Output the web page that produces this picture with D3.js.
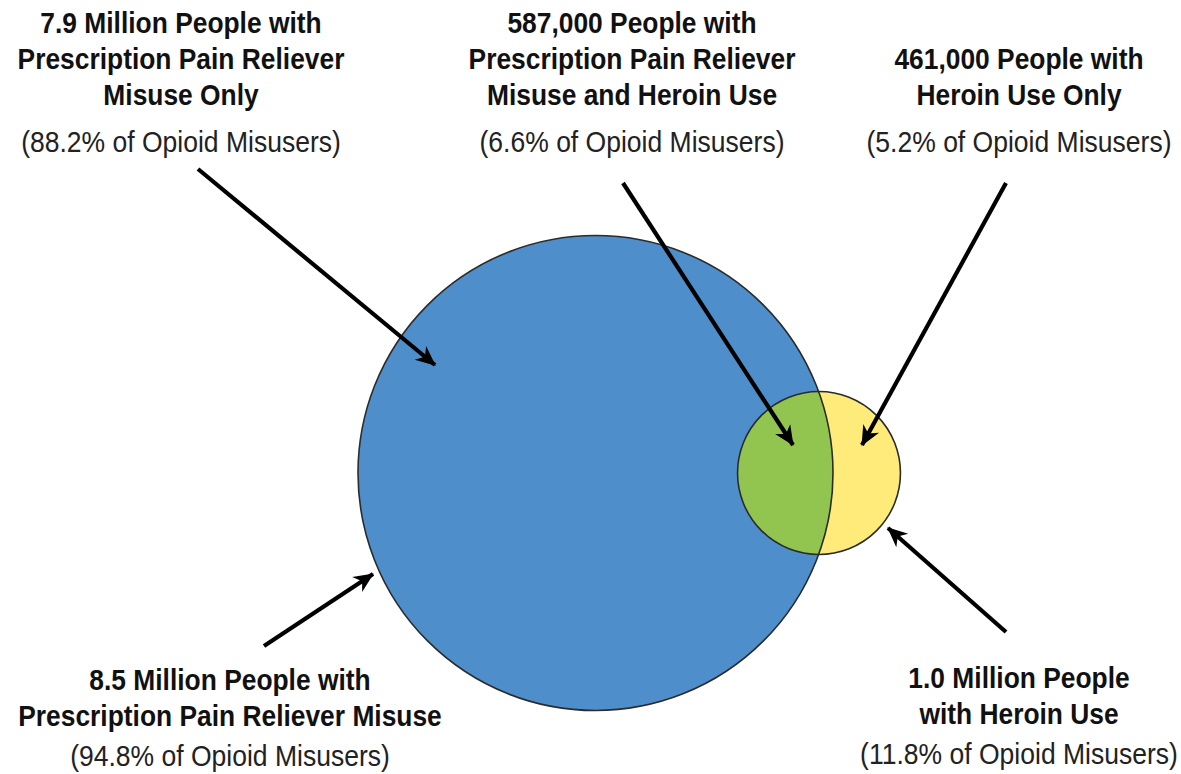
<!DOCTYPE html>
<html>
<head>
<meta charset="utf-8">
<script src="https://cdn.jsdelivr.net/npm/d3@7"></script>
<style>
  html, body { margin: 0; padding: 0; background: #fff; }
  svg { display: block; }
  .bold { font-family: "Liberation Sans", Arial, sans-serif; font-weight: 700; fill: #111; }
  .reg { font-family: "Liberation Sans", Arial, sans-serif; font-weight: 400; fill: #222; }
</style>
</head>
<body>
<svg id="chart" width="1181" height="774"></svg>
<script>
// Opioid misuse populations (millions of people)
const sets = ["Prescription Pain Reliever Misuse", "Heroin Use"];
const setValues = [8.5, 1.0];
const setColors = ["#4e8fcb", "#ffeb7a"];
const overlapColor = "#92c550";

// Label blocks: bold headline lines and share of opioid misusers
const labelTitles = [
  ["7.9 Million People with", "Prescription Pain Reliever", "Misuse Only"],
  ["587,000 People with", "Prescription Pain Reliever", "Misuse and Heroin Use"],
  ["461,000 People with", "Heroin Use Only"],
  ["8.5 Million People with", "Prescription Pain Reliever Misuse"],
  ["1.0 Million People", "with Heroin Use"]
];
const labelShares = ["88.2%", "6.6%", "5.2%", "94.8%", "11.8%"];

const svg = d3.select("#chart");

// circle areas proportional to population
const rScale = d3.scaleSqrt().domain([0, 8.5]).range([0, 237.5]);
const cy = 473;
const centers = [595.5, 819];
const circles = sets.map((s, i) => ({ name: s, cx: centers[i], cy, r: rScale(setValues[i]), color: setColors[i] }));

const defs = svg.append("defs");
defs.append("clipPath").attr("id", "bigClip")
  .append("circle").attr("cx", circles[0].cx).attr("cy", circles[0].cy).attr("r", circles[0].r);

defs.append("marker")
  .attr("id", "head")
  .attr("markerUnits", "userSpaceOnUse")
  .attr("viewBox", "-20 -10 22 20")
  .attr("refX", 0).attr("refY", 0)
  .attr("markerWidth", 22).attr("markerHeight", 20)
  .attr("orient", "auto")
  .append("path")
  .attr("d", "M1,0 L-19,-9 L-13,0 L-19,9 Z")
  .attr("fill", "#000");

const g = svg.append("g");
// fills
g.append("circle").attr("cx", circles[0].cx).attr("cy", cy).attr("r", circles[0].r).attr("fill", circles[0].color);
g.append("circle").attr("cx", circles[1].cx).attr("cy", cy).attr("r", circles[1].r).attr("fill", circles[1].color);
g.append("circle").attr("cx", circles[1].cx).attr("cy", cy).attr("r", circles[1].r)
  .attr("fill", overlapColor).attr("clip-path", "url(#bigClip)");
// outlines
g.selectAll("circle.outline").data(circles).join("circle")
  .attr("class", "outline")
  .attr("cx", d => d.cx).attr("cy", d => d.cy).attr("r", d => d.r)
  .attr("fill", "none").attr("stroke", "#2b2b2b").attr("stroke-width", 1.6);

// pointer arrows from each label to its region
const arrows = [
  [[198, 169], [435, 365]],
  [[623, 183], [793, 445]],
  [[1006, 183], [862, 445]],
  [[264, 646], [373, 574]],
  [[1006, 632], [888, 528]]
];
svg.append("g").selectAll("line").data(arrows).join("line")
  .attr("x1", d => d[0][0]).attr("y1", d => d[0][1])
  .attr("x2", d => d[1][0]).attr("y2", d => d[1][1])
  .attr("stroke", "#000").attr("stroke-width", 4.2)
  .attr("marker-end", "url(#head)");

// label layout: center x, first baseline, share baseline
const labelPos = [
  { x: 181, y: 33, sy: 152 },
  { x: 632, y: 33, sy: 152 },
  { x: 1019, y: 69, sy: 152 },
  { x: 230, y: 690, sy: 766 },
  { x: 1019, y: 688, sy: 764 }
];
const lineGap = 36;
const fontSize = 30;

// condensed look: squeeze glyphs horizontally to a fixed measure
function condenseFactor(cls, sample, target) {
  const probe = svg.append("text").attr("class", cls).attr("font-size", fontSize).text(sample);
  const w = probe.node().getComputedTextLength();
  probe.remove();
  return target / w;
}
const boldScale = condenseFactor("bold", "Prescription Pain Reliever", 327);
const regScale = condenseFactor("reg", "(88.2% of Opioid Misusers)", 320);

labelTitles.forEach((lines, i) => {
  const p = labelPos[i];
  const t = svg.append("g");
  lines.forEach((ln, j) => {
    t.append("text").attr("class", "bold")
      .attr("transform", `translate(${p.x},${p.y + j * lineGap}) scale(${boldScale},1)`)
      .attr("text-anchor", "middle").attr("font-size", fontSize)
      .text(ln);
  });
  t.append("text").attr("class", "reg")
    .attr("transform", `translate(${p.x},${p.sy}) scale(${regScale},1)`)
    .attr("text-anchor", "middle").attr("font-size", fontSize)
    .text(`(${labelShares[i]} of Opioid Misusers)`);
});
</script>
</body>
</html>
